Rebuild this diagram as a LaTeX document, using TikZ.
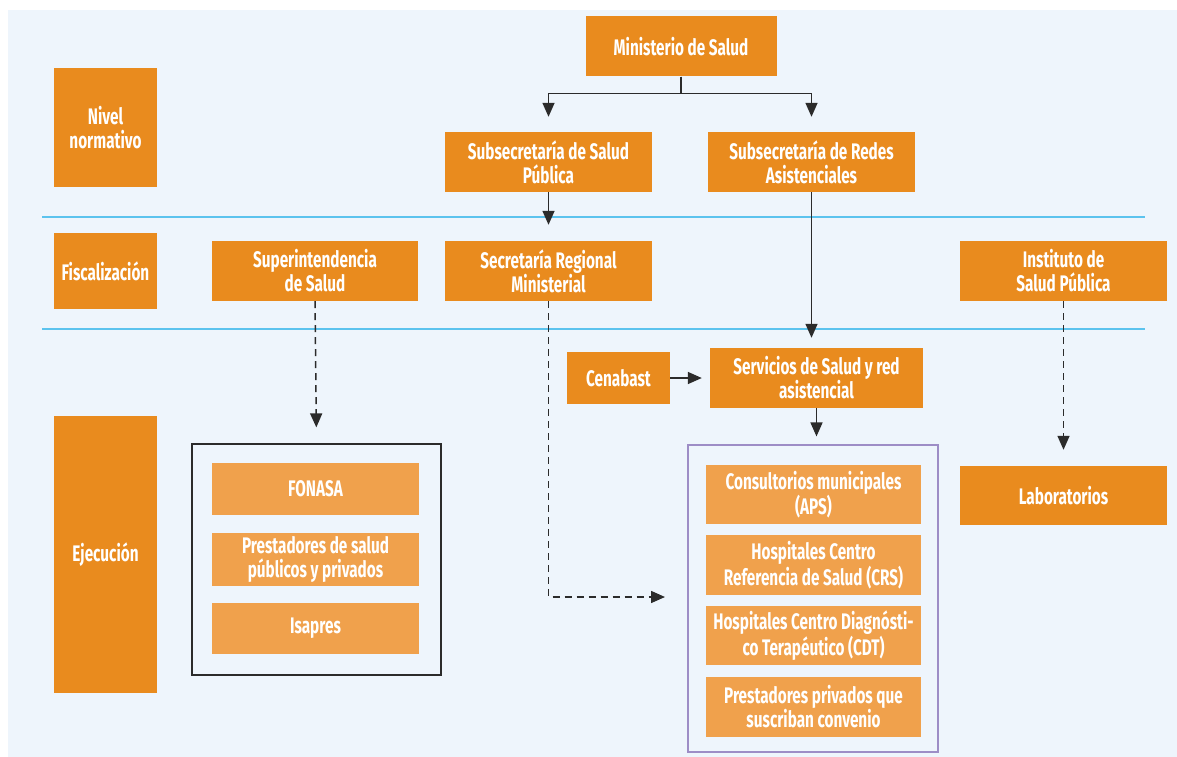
\documentclass[tikz,border=0pt]{standalone}
\usepackage{fontspec}
\setmainfont{Fira Sans}[FakeStretch=0.68]
\usetikzlibrary{arrows.meta}

\definecolor{fondo}{HTML}{EEF5FC}
\definecolor{naranja}{HTML}{E98B1E}
\definecolor{naranjaclaro}{HTML}{F0A14C}
\definecolor{linea}{HTML}{5CC3EE}
\definecolor{morado}{HTML}{9D8DC6}
\definecolor{flecha}{HTML}{2B2B2B}

\begin{document}
\begin{tikzpicture}[x=1pt, y=-1pt, >={Triangle[length=14pt,width=12pt]},
  caja/.style={fill=naranja, text=white, inner sep=0pt, align=center,
    font=\fontsize{22.5}{24}\selectfont\bfseries},
  subcaja/.style={caja, fill=naranjaclaro},
  flechan/.style={->, draw=flecha, line width=1.5pt},
  flechad/.style={->, draw=flecha, line width=1.5pt, dash pattern=on 7pt off 5pt}]

  % Fondo y margenes
  \useasboundingbox (0,0) rectangle (1177,757);
  \fill[white] (0,0) rectangle (1177,757);
  \fill[fondo] (8,10) rectangle (1177,757);

  % Lineas de nivel
  \draw[linea, line width=1.6pt] (42,217) -- (1145,217);
  \draw[linea, line width=1.6pt] (42,329) -- (1145,329);

  % Niveles
  \node[caja, minimum width=103, minimum height=119] (nivel) at (105.5,127.5) {Nivel\\normativo};
  \node[caja, minimum width=103, minimum height=76]  (fisc)  at (105.5,271) {Fiscalización};
  \node[caja, minimum width=103, minimum height=277] (ejec)  at (105.5,554.5) {Ejecución};

  % Nivel normativo
  \node[caja, minimum width=191, minimum height=60] (minsal) at (681,46.5) {Ministerio de Salud};
  \node[caja, minimum width=207, minimum height=60] (subsp)  at (548.5,162) {Subsecretaría de Salud\\Pública};
  \node[caja, minimum width=207, minimum height=60] (subred) at (811.5,162) {Subsecretaría de Redes\\Asistenciales};

  % Fiscalizacion
  \node[caja, minimum width=206, minimum height=60] (superint) at (315,271) {Superintendencia\\de Salud};
  \node[caja, minimum width=207, minimum height=60] (seremi)   at (548.5,271) {Secretaría Regional\\Ministerial};
  \node[caja, minimum width=207, minimum height=60] (isp)      at (1063.5,271) {Instituto de\\Salud Pública};

  % Ejecucion
  \node[caja, minimum width=103, minimum height=52] (cenabast)  at (618.5,378) {Cenabast};
  \node[caja, minimum width=213, minimum height=60] (servicios) at (816.5,378) {Servicios de Salud y red\\asistencial};
  \node[caja, minimum width=207, minimum height=59] (lab)       at (1063.5,495.5) {Laboratorios};

  % Grupo FONASA
  \node[draw=flecha, line width=1.2pt, minimum width=249, minimum height=231] (grupo) at (316.5,559.5) {};
  \node[subcaja, minimum width=207, minimum height=52] (fonasa)  at (315.5,489) {FONASA};
  \node[subcaja, minimum width=207, minimum height=53] (prestsp) at (315.5,559.5) {Prestadores de salud\\públicos y privados};
  \node[subcaja, minimum width=207, minimum height=51] (isapres) at (315.5,628.5) {Isapres};

  % Red asistencial
  \node[draw=morado, line width=1.2pt, minimum width=250, minimum height=307] (red) at (813,598.5) {};
  \node[subcaja, minimum width=215, minimum height=59] (aps)      at (813.5,494.5) {Consultorios municipales\\(APS)};
  \node[subcaja, minimum width=215, minimum height=60] (crs)      at (813.5,565) {Hospitales Centro\\Referencia de Salud (CRS)};
  \node[subcaja, minimum width=215, minimum height=59] (cdt)      at (813.5,635.5) {Hospitales Centro Diagnósti-\\co Terapéutico (CDT)};
  \node[subcaja, minimum width=215, minimum height=60] (privados) at (813.5,707) {Prestadores privados que\\suscriban convenio};

  % Flechas continuas
  \draw[flechan] (minsal.south) -- ++(0,17) -| ([yshift=15pt]subsp.north);
  \draw[flechan] (minsal.south) -- ++(0,17) -| ([yshift=15pt]subred.north);
  \draw[flechan, shorten >=16pt] (subsp.south) -- (seremi.north);
  \draw[flechan, shorten >=10pt] (subred.south) -- (subred.south |- servicios.north);
  \draw[flechan, shorten >=8pt] (cenabast.east) -- (servicios.west);
  \draw[flechan, shorten >=8pt] (servicios.south) -- (servicios.south |- red.north);

  % Flechas discontinuas
  \coordinate (finrm) at (665,597);
  \draw[flechad, shorten >=16pt] (superint.south) -- (grupo.north);
  \draw[flechad] (seremi.south) |- (finrm);
  \draw[flechad, shorten >=16pt] (isp.south) -- (lab.north);

\end{tikzpicture}
\end{document}
